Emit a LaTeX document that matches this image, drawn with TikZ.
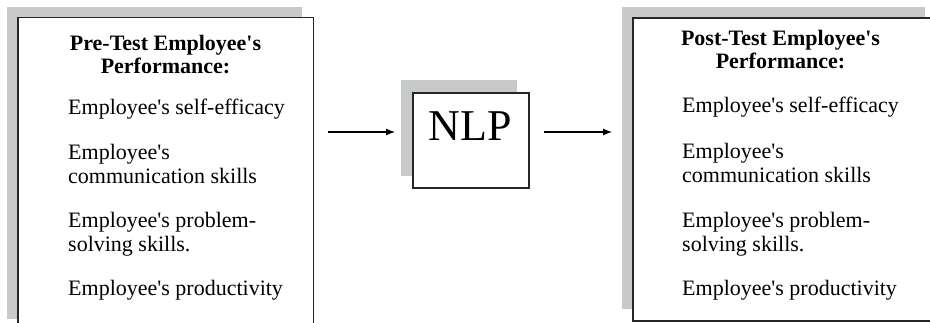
\documentclass[tikz,border=0pt]{standalone}
\usepackage{fontspec}
\setmainfont{Liberation Serif}
\usetikzlibrary{arrows.meta}
\definecolor{shade}{RGB}{200,201,203}
% straight apostrophe, as typed
\newcommand{\ap}{\textquotesingle}
\begin{document}
\begin{tikzpicture}[x=1pt,y=-1pt,
  shadowbox/.style={fill=shade,draw=none},
  framebox/.style={fill=white,draw=black!85,line width=1.6pt},
  head/.style={font=\fontsize{22}{25}\selectfont\bfseries,anchor=base,inner sep=0pt},
  item/.style={font=\fontsize{22}{25}\selectfont,anchor=base west,inner sep=0pt},
  flow/.style={line width=1.1pt,-{Latex[length=9pt,width=7pt]}}]
\useasboundingbox (0,0) rectangle (930,323);
\clip (0,0) rectangle (930,323);

% left block: pre-test
\fill[shadowbox] (7,7) rectangle (302,319);
\draw[framebox] (18,17.5) rectangle (313.5,340);
\node[head] (pre1) at (165.5,51) {Pre-Test Employee\ap s};
\node[head] (pre2) at (165.5,74) {Performance:};
\node[item] (l1) at (68,115) {Employee\ap s self-efficacy};
\node[item] (l2a) at (68,160) {Employee\ap s};
\node[item] (l2b) at (68,184) {communication skills};
\node[item] (l3a) at (68,228) {Employee\ap s problem-};
\node[item] (l3b) at (68,252) {solving skills.};
\node[item] (l4) at (68,296) {Employee\ap s productivity};

% middle block: intervention
\fill[shadowbox] (401,80) rectangle (517,176);
\node[framebox,minimum width=116pt,minimum height=95pt,inner sep=0pt,anchor=north west] (nlpbox) at (412,92) {};
\node[font=\fontsize{44}{48}\selectfont,anchor=base,inner sep=0pt] (nlp) at (470,141) {NLP};

% right block: post-test
\fill[shadowbox] (622,7) rectangle (925,309);
\draw[framebox] (633,18) rectangle (940,321);
\node[head] (post1) at (780.5,46) {Post-Test Employee\ap s};
\node[head] (post2) at (780.5,69) {Performance:};
\node[item] (r1) at (682,113) {Employee\ap s self-efficacy};
\node[item] (r2a) at (682,159) {Employee\ap s};
\node[item] (r2b) at (682,183) {communication skills};
\node[item] (r3a) at (682,228) {Employee\ap s problem-};
\node[item] (r3b) at (682,252) {solving skills.};
\node[item] (r4) at (682,296) {Employee\ap s productivity};

% arrows between the blocks
\coordinate (a1s) at (328,132);
\coordinate (a1e) at (395,132);
\coordinate (a2s) at (544,132);
\coordinate (a2e) at (612,132);
\draw[flow] (a1s) -- (a1e);
\draw[flow] (a2s) -- (a2e);
\end{tikzpicture}
\end{document}
